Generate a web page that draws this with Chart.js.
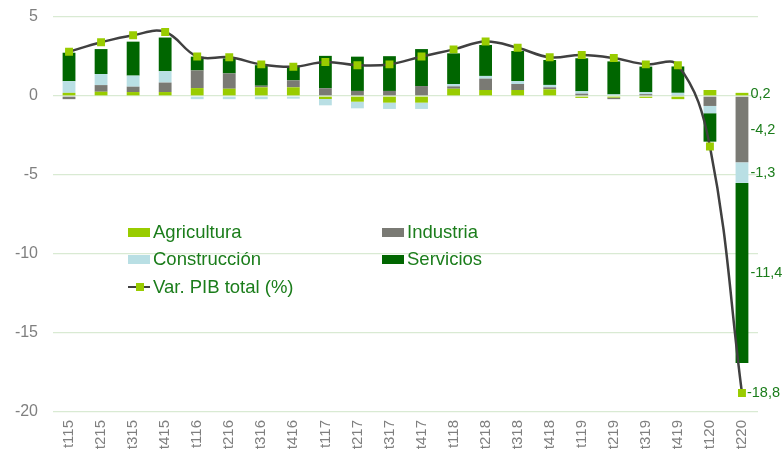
<!DOCTYPE html>
<html>
<head>
<meta charset="utf-8">
<script src="https://cdn.jsdelivr.net/npm/chart.js@4.4.1/dist/chart.umd.min.js"></script>
<style>
  html, body { margin: 0; padding: 0; background: #fff; }
  #wrap { position: relative; width: 784px; height: 457px; }
  .leg { position: absolute; font: 18.5px "Liberation Sans", Arial, sans-serif; color: #1b7d1b; white-space: nowrap; }
  .leg .sw { position: absolute; left: 0; top: 50%; width: 22px; height: 9px; margin-top: -4.5px; }
  .leg span.t { position: absolute; left: 25px; top: 50%; transform: translateY(-50%); }
</style>
</head>
<body>
<div id="wrap">
  <canvas id="chart" width="784" height="457"></canvas>
  <div id="legend"></div>
</div>
<script>
const quarters = ["t115", "t215", "t315", "t415", "t116", "t216", "t316", "t416",
  "t117", "t217", "t317", "t417", "t118", "t218", "t318", "t418",
  "t119", "t219", "t319", "t419", "t120", "t220"];

const agricultura = [0.2, 0.27, 0.25, 0.25, 0.5, 0.46, 0.55, 0.55, -0.19, -0.36, -0.42, -0.42,
  0.46, 0.38, 0.38, 0.42, -0.12, -0.1, -0.12, -0.2, 0.38, 0.2];
const industria = [-0.2, 0.42, 0.34, 0.6, 1.12, 0.97, 0.1, 0.44, 0.49, 0.32, 0.32, 0.63,
  0.15, 0.72, 0.38, 0.13, 0.15, -0.1, 0.12, 0.05, -0.63, -4.2];
const construccion = [0.74, 0.7, 0.7, 0.72, -0.2, -0.2, -0.2, -0.17, -0.4, -0.42, -0.4, -0.4,
  0.15, 0.17, 0.19, 0.15, 0.15, 0.1, 0.12, 0.15, -0.46, -1.3];
const servicios = [1.8, 1.58, 2.15, 2.13, 0.87, 0.95, 1.3, 0.87, 2.05, 2.17, 2.2, 2.34,
  1.94, 1.96, 1.9, 1.58, 2.09, 2.09, 1.62, 1.67, -1.8, -11.4];
const pibTotal = [2.8, 3.4, 3.85, 4.05, 2.5, 2.45, 2.0, 1.85, 2.15, 1.95, 2.0, 2.5,
  2.95, 3.45, 3.05, 2.45, 2.6, 2.4, 2.0, 1.95, -3.2, -18.8];

const yTicks = [5, 0, -5, -10, -15, -20];

const FONT = '"Liberation Sans", Arial, sans-serif';
const LABEL_GREEN = "#1b7d1b";

function bar(label, data, color) {
  return {
    type: "bar", label, data, backgroundColor: color, stack: "sect", order: 1,
    categoryPercentage: 1, barPercentage: 0.4,
  };
}

// labels for the last quarter, to the right of its bar
const lastLabels = {
  id: "lastLabels",
  afterDatasetsDraw(chart) {
    const ctx = chart.ctx;
    const i = quarters.length - 1;
    ctx.save();
    ctx.font = "14.5px " + FONT;
    ctx.fillStyle = LABEL_GREEN;
    ctx.textAlign = "left";
    ctx.textBaseline = "middle";
    chart.data.datasets.forEach((ds, di) => {
      const el = chart.getDatasetMeta(di).data[i];
      const txt = ds.data[i].toFixed(1).replace(".", ",");
      if (ds.type === "bar") {
        ctx.fillText(txt, el.x + el.width / 2 + 2, (el.y + el.base) / 2);
      } else {
        ctx.fillText(txt, el.x + 5, el.y);
      }
    });
    ctx.restore();
  },
};

const chart = new Chart(document.getElementById("chart"), {
  data: {
    labels: quarters,
    datasets: [
      {
        type: "line", label: "Var. PIB total (%)", data: pibTotal, stack: "pib", order: 0,
        borderColor: "#404040", borderWidth: 2.5, tension: 0.4,
        pointStyle: "rect", pointRadius: 5.6, pointBackgroundColor: "#99cc00",
        pointBorderColor: "#99cc00", pointBorderWidth: 0,
      },
      bar("Agricultura", agricultura, "#99cc00"),
      bar("Industria", industria, "#7a7a74"),
      bar("Construcción", construccion, "#b9dfe4"),
      bar("Servicios", servicios, "#006600"),
    ],
  },
  options: {
    responsive: false,
    animation: false,
    devicePixelRatio: 1,
    layout: { padding: { top: 17, right: 26, left: 0, bottom: 0 } },
    plugins: { legend: { display: false }, tooltip: { enabled: false } },
    scales: {
      x: {
        stacked: true,
        grid: { display: false, drawTicks: false },
        border: { display: false },
        ticks: { color: "#7f7f7f", font: { family: FONT, size: 15 }, minRotation: 90, maxRotation: 90, padding: 8 },
        afterFit: (s) => { s.height = 45; },
      },
      y: {
        stacked: true,
        min: -20, max: 5,
        afterBuildTicks: (s) => { s.ticks = yTicks.map((v) => ({ value: v })); },
        grid: { color: "#d9ead3", lineWidth: 1.3, drawTicks: false },
        border: { display: false },
        ticks: { color: "#7f7f7f", font: { family: FONT, size: 16 }, padding: 15 },
        afterFit: (s) => { s.width = 53; s.paddingTop = 0; s.paddingBottom = 0; },
      },
    },
  },
  plugins: [lastLabels],
});

// legend inside the plot area
const legendSpots = [
  { ds: 1, x: 128, y: 232 }, { ds: 2, x: 382, y: 232 },
  { ds: 3, x: 128, y: 259 }, { ds: 4, x: 382, y: 259 },
  { ds: 0, x: 128, y: 287 },
];
const legendEl = document.getElementById("legend");
legendSpots.forEach((p) => {
  const ds = chart.data.datasets[p.ds];
  const item = document.createElement("div");
  item.className = "leg";
  item.style.left = p.x + "px";
  item.style.top = (p.y - 12) + "px";
  item.style.height = "24px";
  let sym;
  if (ds.type === "bar") {
    sym = '<div class="sw" style="background:' + ds.backgroundColor + '"></div>';
  } else {
    sym = '<div class="sw" style="height:2.5px;margin-top:-1.25px;background:' + ds.borderColor + '"></div>' +
      '<div class="sw" style="left:7.5px;width:8px;height:8px;margin-top:-4px;background:' + ds.pointBackgroundColor + '"></div>';
  }
  item.innerHTML = sym + '<span class="t">' + ds.label + "</span>";
  legendEl.appendChild(item);
});
</script>
</body>
</html>
